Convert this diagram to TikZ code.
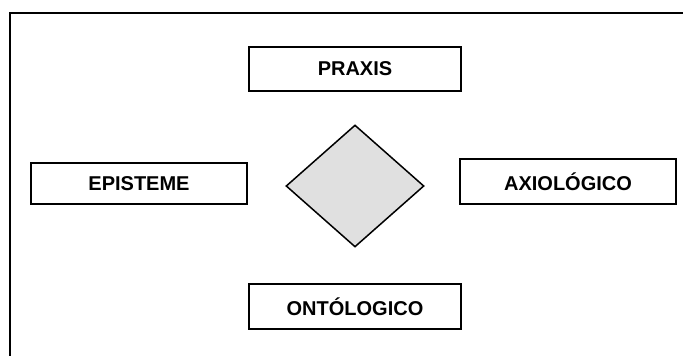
\documentclass[tikz,border=0pt]{standalone}
\usepackage{fontspec}
\setmainfont{Liberation Sans}
\usetikzlibrary{shapes.geometric}

\tikzset{
  caja/.style={draw, line width=1.5pt, inner sep=0pt,
    font=\fontsize{20}{24}\selectfont\bfseries},
  rombo/.style={diamond, draw, line width=1.5pt, fill=black!12,
    inner sep=0pt, minimum width=138pt, minimum height=122pt}
}

\begin{document}
\begin{tikzpicture}[x=1pt,y=-1pt]
  \useasboundingbox (0,0) rectangle (683,356);
  % marco
  \draw[line width=2pt] (10,357) -- (10,13) -- (684,13);
  % centro
  \node[rombo] (centro) at (355,186) {};
  % cajas
  \node[caja, minimum width=212pt, minimum height=44pt] (praxis) at (355,69) {PRAXIS};
  \node[caja, minimum width=216pt, minimum height=41pt] (episteme) at (139,183.5) {EPISTEME};
  \node[caja, minimum width=216pt, minimum height=45pt] (axiologico) at (568,181.5) {AXIOLÓGICO};
  \node[caja, minimum width=212pt, minimum height=45pt] (ontologico) at (355,306.5) {ONTÓLOGICO};
\end{tikzpicture}
\end{document}
